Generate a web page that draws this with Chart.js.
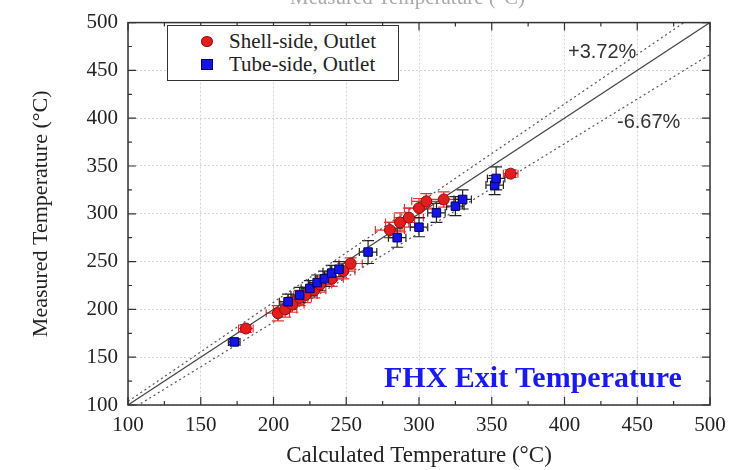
<!DOCTYPE html>
<html>
<head>
<meta charset="utf-8">
<script src="https://cdn.jsdelivr.net/npm/chart.js@4"></script>
<style>
  body { margin: 0; background: #fff; }
  #wrap { position: relative; width: 746px; height: 470px; overflow: hidden; }
  .legend { position: absolute; left: 167px; top: 25px; width: 230px; height: 54px;
    border: 1px solid #333; background: #fff; font: 21px "Liberation Serif", serif; color: #222; }
  .legend .row { position: absolute; left: 0; height: 22px; line-height: 22px; }
  .legend .mk { position: absolute; left: 33px; top: 6px; width: 11px; height: 10px; }
  .legend .txt { position: absolute; left: 61px; white-space: nowrap; }
  .note { position: absolute; font: 20px "Liberation Sans", Arial, sans-serif; color: #333; }
  .fhx { position: absolute; left: 384px; top: 360px; font: bold 30px "Liberation Serif", serif; color: #1a1aee; white-space: nowrap; }
  .cut { position: absolute; left: 290px; top: -15px; font: 21px "Liberation Serif", serif; color: #aaa; white-space: nowrap; }
</style>
</head>
<body>
<div id="wrap">
  <canvas id="chart" width="746" height="470"></canvas>
  <div class="cut">Measured Temperature (°C)</div>
  <div class="legend">
    <div class="row" style="top:4px"><span class="mk" style="background:#e21d1d;border-radius:50%;border:1px solid #8a0f0f;width:10px;height:9px"></span><span class="txt">Shell-side, Outlet</span></div>
    <div class="row" style="top:27px"><span class="mk" style="background:#1414e6;border:1px solid #000060;width:10px;height:9px"></span><span class="txt">Tube-side, Outlet</span></div>
  </div>
  <div class="note" style="left:568px;top:40px">+3.72%</div>
  <div class="note" style="left:617px;top:110px">-6.67%</div>
  <div class="fhx">FHX Exit Temperature</div>
</div>
<script>
// shell-side outlet (red circles)
const shellCalc = [181, 203, 208, 213, 218, 222, 228, 232, 240, 248, 253, 280, 287, 293, 300, 305, 317, 363];
const shellMeas = [180, 196, 200, 205, 212, 215, 220, 226, 232, 240, 248, 283, 291, 296, 306, 313, 315, 342];
const shellXErr = [5, 8, 8, 8, 8, 8, 8, 8, 8, 8, 8, 10, 10, 10, 10, 10, 10, 5];
const shellYErr = [4, 8, 8, 8, 8, 8, 8, 8, 8, 8, 6, 8, 10, 10, 10, 8, 8, 4];

// tube-side outlet (blue squares)
const tubeCalc = [173, 210, 218, 225, 230, 235, 240, 245, 265, 285, 300, 312, 325, 330, 352, 353];
const tubeMeas = [166, 208, 215, 222, 228, 232, 238, 242, 260, 275, 286, 301, 308, 315, 330, 337];
const tubeXErr = [4, 6, 6, 6, 6, 6, 6, 6, 6, 6, 6, 6, 6, 6, 6, 6];
const tubeYErr = [3, 8, 8, 8, 8, 8, 8, 8, 12, 10, 10, 10, 10, 10, 10, 12];

// deviation bands
const upperPct = 3.72;
const lowerPct = -6.67;
const axisMin = 100;
const axisMax = 500;
const tickLabels = [100, 150, 200, 250, 300, 350, 400, 450, 500];

const serif = '"Liberation Serif", "Times New Roman", serif';

function toPoints(xs, ys) {
  return xs.map((x, i) => ({ x: x, y: ys[i] }));
}

function bandLine(pct) {
  const f = 1 + pct / 100;
  return [{ x: axisMin, y: axisMin * f }, { x: axisMax, y: axisMax * f }];
}

// error bars drawn through the chart scales
const errorBars = {
  id: 'errorBars',
  beforeDatasetsDraw(chart) {
    const { ctx, scales: { x, y } } = chart;
    const sets = [
      { xs: shellCalc, ys: shellMeas, ex: shellXErr, ey: shellYErr, color: '#e83030' },
      { xs: tubeCalc, ys: tubeMeas, ex: tubeXErr, ey: tubeYErr, color: '#222' },
    ];
    ctx.save();
    ctx.lineWidth = 1.2;
    sets.forEach((s) => {
      ctx.strokeStyle = s.color;
      s.xs.forEach((cx, i) => {
        const px = x.getPixelForValue(cx);
        const py = y.getPixelForValue(s.ys[i]);
        const x0 = x.getPixelForValue(cx - s.ex[i]);
        const x1 = x.getPixelForValue(cx + s.ex[i]);
        const y0 = y.getPixelForValue(s.ys[i] - s.ey[i]);
        const y1 = y.getPixelForValue(s.ys[i] + s.ey[i]);
        ctx.beginPath();
        ctx.moveTo(x0, py); ctx.lineTo(x1, py);
        ctx.moveTo(x0, py - 4); ctx.lineTo(x0, py + 4);
        ctx.moveTo(x1, py - 4); ctx.lineTo(x1, py + 4);
        ctx.moveTo(px, y0); ctx.lineTo(px, y1);
        ctx.moveTo(px - 6, y0); ctx.lineTo(px + 6, y0);
        ctx.moveTo(px - 6, y1); ctx.lineTo(px + 6, y1);
        ctx.stroke();
      });
    });
    ctx.restore();
  },
  afterDatasetsDraw(chart) {
    // frame with inward ticks on all four sides
    const { ctx, chartArea: a, scales: { x, y } } = chart;
    ctx.save();
    ctx.strokeStyle = '#333';
    ctx.lineWidth = 1.5;
    ctx.strokeRect(a.left, a.top, a.right - a.left, a.bottom - a.top);
    ctx.lineWidth = 1.2;
    ctx.beginPath();
    for (let v = axisMin; v <= axisMax; v += 25) {
      const len = v % 50 === 0 ? 8 : 4;
      const px = x.getPixelForValue(v);
      const py = y.getPixelForValue(v);
      ctx.moveTo(px, a.bottom); ctx.lineTo(px, a.bottom - len);
      ctx.moveTo(px, a.top); ctx.lineTo(px, a.top + len);
      ctx.moveTo(a.left, py); ctx.lineTo(a.left + len, py);
      ctx.moveTo(a.right, py); ctx.lineTo(a.right - len, py);
    }
    ctx.stroke();
    ctx.restore();
  },
};

new Chart(document.getElementById('chart').getContext('2d'), {
  type: 'scatter',
  data: {
    datasets: [
      {
        label: 'Shell-side, Outlet',
        data: toPoints(shellCalc, shellMeas),
        pointStyle: 'circle',
        pointRadius: 5.5,
        backgroundColor: '#e21d1d',
        borderColor: '#8a0f0f',
        borderWidth: 1,
        order: 1,
      },
      {
        label: 'Tube-side, Outlet',
        data: toPoints(tubeCalc, tubeMeas),
        pointStyle: 'rect',
        pointRadius: 6,
        backgroundColor: '#1414e6',
        borderColor: '#000060',
        borderWidth: 1,
        order: 0,
      },
      {
        label: 'y = x',
        data: bandLine(0),
        showLine: true,
        pointRadius: 0,
        borderColor: '#444',
        borderWidth: 1.2,
        order: 3,
      },
      {
        label: '+3.72%',
        data: bandLine(upperPct),
        showLine: true,
        pointRadius: 0,
        borderColor: '#555',
        borderWidth: 1.2,
        borderDash: [2, 3],
        order: 3,
      },
      {
        label: '-6.67%',
        data: bandLine(lowerPct),
        showLine: true,
        pointRadius: 0,
        borderColor: '#555',
        borderWidth: 1.2,
        borderDash: [2, 3],
        order: 3,
      },
    ],
  },
  options: {
    responsive: false,
    animation: false,
    events: [],
    layout: { padding: { left: 28, right: 36, top: 18, bottom: 0 } },
    plugins: { legend: { display: false }, tooltip: { enabled: false } },
    scales: {
      x: {
        type: 'linear',
        min: axisMin,
        max: axisMax,
        afterBuildTicks: (s) => { s.ticks = tickLabels.map((v) => ({ value: v })); },
        afterFit: (s) => { s.height = 65; },
        ticks: { color: '#222', font: { family: serif, size: 21 }, padding: 8 },
        grid: { color: '#d4d4d4', drawTicks: false },
        border: { display: false, dash: [2, 2] },
        title: { display: true, text: 'Calculated Temperature (°C)', color: '#222',
          font: { family: serif, size: 23 }, padding: { top: 2, bottom: 0 } },
      },
      y: {
        type: 'linear',
        min: axisMin,
        max: axisMax,
        afterBuildTicks: (s) => { s.ticks = tickLabels.map((v) => ({ value: v })); },
        afterFit: (s) => { s.width = 100; },
        ticks: { color: '#222', font: { family: serif, size: 21 }, padding: 10 },
        grid: { color: '#d4d4d4', drawTicks: false },
        border: { display: false, dash: [2, 2] },
        title: { display: true, text: 'Measured Temperature (°C)', color: '#222',
          font: { family: serif, size: 22 }, padding: { top: 0, bottom: 4 } },
      },
    },
  },
  plugins: [errorBars],
});
</script>
</body>
</html>
